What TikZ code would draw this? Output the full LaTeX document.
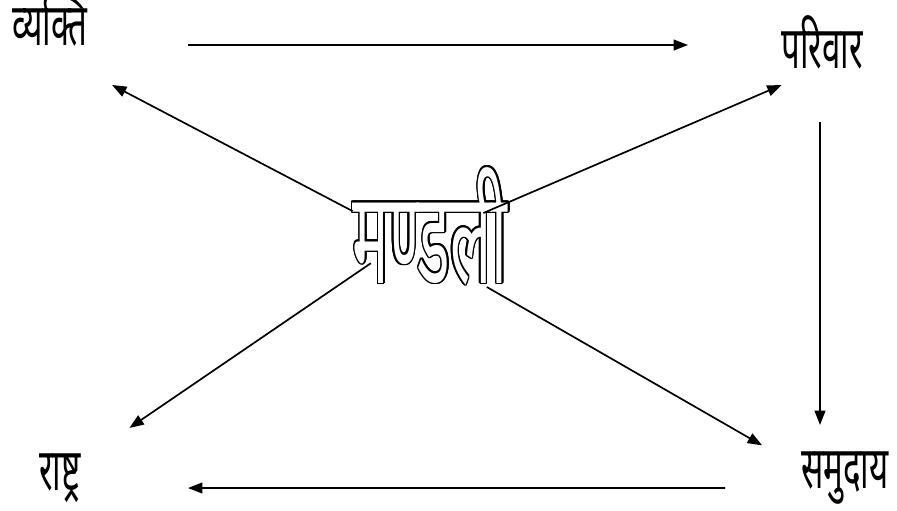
\documentclass[tikz,border=0pt]{standalone}
\usepackage{fontspec}
\usepackage{xcolor}
\usepackage{contour}
\usepackage{tikz}
\usetikzlibrary{arrows.meta}
\newfontfamily\wordfont[Script=Devanagari,FakeStretch=0.56]{Noto Sans}
\newfontfamily\hubfont[Script=Devanagari,FakeStretch=0.47]{Noto Sans}
\contourlength{1.1pt}
\tikzset{
  wordnode/.style={
    inner sep=0pt,outer sep=0pt,minimum width=2.5cm,
    text height=1.05cm,text depth=0.35cm,
    font=\wordfont\fontsize{42}{46}\selectfont
  },
  hubnode/.style={
    inner sep=0pt,outer sep=0pt,minimum width=3.8cm,
    text height=1.75cm,text depth=0.05cm,
    font=\hubfont\fontsize{92}{96}\selectfont
  },
  arr/.style={
    draw=black,line width=1.2pt,
    -{Triangle[length=0.36cm,width=0.27cm]}
  },
}
\begin{document}
\begin{tikzpicture}
  \useasboundingbox (0,0) rectangle (22.425,-12.75);
  \node[wordnode] (vyakti) at (1.25,-0.775) {व्यक्ति};
  \node[wordnode] (parivar) at (20.55,-1.35) {परिवार};
  \node[wordnode] (rashtra) at (1.5,-11.9) {राष्ट्र};
  \node[wordnode] (samuday) at (21.125,-11.85) {समुदाय};
  \node[hubnode] (mandali) at (10.75,-6.225) {\contour{black}{\textcolor{white}{मण्डली}}};
  % outer cycle
  \draw[arr, shorten <=2.2cm, shorten >=2.1cm] ([yshift=-0.35cm]vyakti.east) -- ([yshift=0.225cm]parivar.west);
  \draw[arr, shorten <=1.0cm, shorten >=0.525cm] ([xshift=-0.05cm]parivar.south) -- ([xshift=-0.625cm]samuday.north);
  \draw[arr, shorten <=1.75cm, shorten >=1.95cm] ([yshift=-0.35cm]samuday.west) -- ([yshift=-0.3cm]rashtra.east);
  % from the centre
  \draw[arr, shorten <=0.1cm, shorten >=1.4cm] (mandali.154) -- (vyakti.294);
  \draw[arr, shorten >=0.19cm] (mandali.34) -- (parivar.220);
  \draw[arr, shorten <=-0.55cm, shorten >=0.89cm] (mandali.199) -- (rashtra.35);
  \draw[arr, shorten <=0.1cm, shorten >=0.95cm] (mandali.-34) -- (samuday.169);
\end{tikzpicture}
\end{document}
